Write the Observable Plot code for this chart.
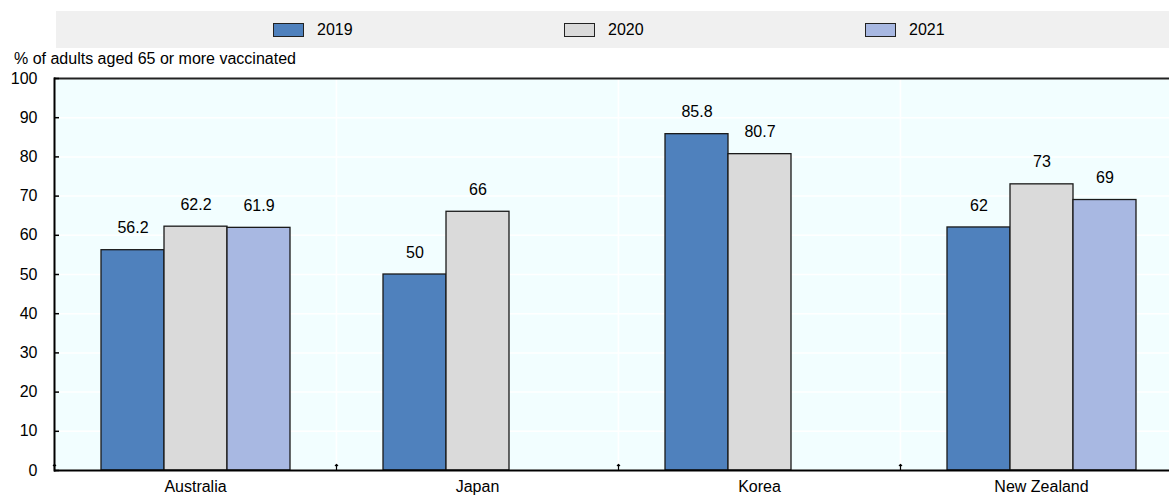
<!DOCTYPE html>
<html>
<head>
<meta charset="utf-8">
<script src="https://cdn.jsdelivr.net/npm/d3@7"></script>
<script src="https://cdn.jsdelivr.net/npm/@observablehq/plot@0.6"></script>
<style>
  html, body { margin: 0; padding: 0; background: #fff; overflow: hidden; width: 1169px; height: 495px; }
  body { position: relative; font-family: "Liberation Sans", Arial, sans-serif; color: #000; }
  #legend { position: absolute; left: 56px; top: 11px; width: 1113px; height: 37px; background: #f0f0f0; }
  .item { position: absolute; top: 0; height: 37px; display: flex; align-items: center; font-size: 16px; }
  .sw { width: 29px; height: 12px; border: 1px solid #222; margin-right: 13px; }
  #ytitle { position: absolute; left: 14px; top: 50px; font-size: 16px; white-space: nowrap; }
  #chart { position: absolute; left: 0; top: 0; width: 1182px; height: 495px; }
  #chart svg { max-width: none !important; }
</style>
</head>
<body>
<div id="chart"></div>
<div id="legend"></div>
<div id="ytitle">% of adults aged 65 or more vaccinated</div>
<script>
const countries = ["Australia", "Japan", "Korea", "New Zealand"];
const years = ["2019", "2020", "2021"];
const values2019 = [56.2, 50, 85.8, 62];
const values2020 = [62.2, 66, 80.7, 73];
const values2021 = [61.9, null, null, 69];
const yTicks = [0, 10, 20, 30, 40, 50, 60, 70, 80, 90, 100];
const colors = ["#4f81bd", "#dadada", "#a8b8e2"];
const legendLeft = [217, 508, 809];

const series = [values2019, values2020, values2021];
const data = [];
countries.forEach((c, i) => {
  years.forEach((y, j) => {
    const v = series[j][i];
    if (v != null) data.push({country: c, year: y, value: v});
  });
});

const font = '"Liberation Sans", Arial, sans-serif';

const chart = Plot.plot({
  width: 1182,
  height: 495,
  marginTop: 78,
  marginBottom: 25,
  marginLeft: 54,
  marginRight: 0,
  style: {fontFamily: font, fontSize: "16px", color: "#000", background: "transparent", maxWidth: "none"},
  fx: {domain: countries, padding: 0, label: null},
  x: {domain: years, paddingInner: 0, paddingOuter: 0.73, axis: null},
  y: {domain: [0, 100], axis: null},
  color: {domain: years, range: colors},
  marks: [
    Plot.frame({fill: "#f2feff", stroke: "#ffffff", strokeWidth: 1.5}),
    Plot.gridY(yTicks, {stroke: "#ffffff", strokeOpacity: 1, strokeWidth: 1.5}),
    Plot.barY(data, {fx: "country", x: "year", y: "value", fill: "year", stroke: "#1a1a1a", strokeWidth: 1.3}),
    Plot.text(data, {fx: "country", x: "year", y: "value", text: d => String(d.value), dy: -22, lineAnchor: "middle", fontSize: 16, fill: "#000"}),
    Plot.ruleY([0], {stroke: "#000", strokeWidth: 2}),
    Plot.ruleY([100], {stroke: "#222", strokeWidth: 2}),
    Plot.frame({anchor: "left", stroke: "#000", strokeWidth: 2, fx: () => "Australia"}),
    Plot.vector([0], {frameAnchor: "bottom-left", length: 6, anchor: "start", rotate: 0, stroke: "#000", strokeWidth: 1.2}),
    Plot.axisY(yTicks, {tickSize: -5, tickPadding: 22, label: null, stroke: "#000", strokeWidth: 1.5, fontSize: 16}),
    Plot.axisFx({anchor: "bottom", tickSize: 0, tickPadding: 10, label: null, fontSize: 16})
  ]
});
document.getElementById("chart").appendChild(chart);

const legend = document.getElementById("legend");
years.forEach((y, j) => {
  const item = document.createElement("div");
  item.className = "item";
  item.style.left = legendLeft[j] + "px";
  const sw = document.createElement("div");
  sw.className = "sw";
  sw.style.background = colors[j];
  const t = document.createElement("span");
  t.textContent = y;
  item.appendChild(sw);
  item.appendChild(t);
  legend.appendChild(item);
});
</script>
</body>
</html>
